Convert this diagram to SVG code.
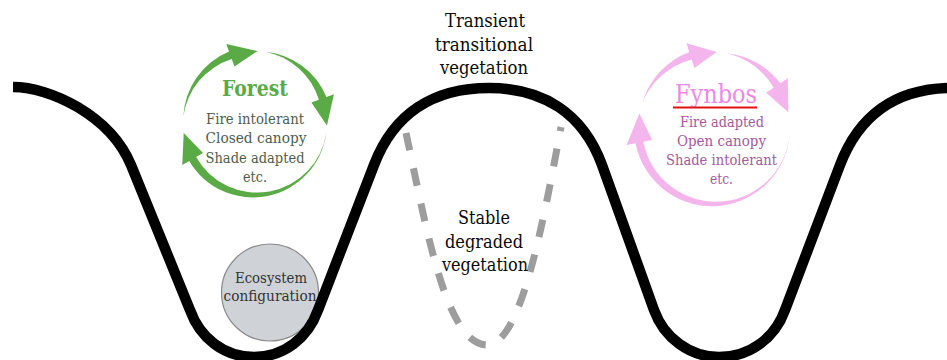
<svg xmlns="http://www.w3.org/2000/svg" width="947" height="360" viewBox="0 0 947 360">
<style>
.t{font-family:"DejaVu Serif","Liberation Serif",serif;text-anchor:middle}
.lbl{font-size:19px;fill:#0a0a0a}
.gbody{font-size:14.5px;fill:#4f5d4c}
.pbody{font-size:15px;fill:#a4599c}
.garr{fill:#5aab45}
.parr{fill:#f4b4ec}
</style>
<rect width="947" height="360" fill="#ffffff"/>
<g id="ecosystem">
<circle cx="270" cy="292.5" r="48.5" fill="#cfd2d6" stroke="#8a8a8a" stroke-width="1.2"/>
</g>
<g id="connectors">
<path id="landscape" d="M13,87 C50,87 110,115 131,165 L190,310 C200,338 224,357 254,357 C284,357 308,338 318,310 L374,165 C394,113 434,88 489,88 C543,88 583,113 602,165 L654,310 C664,338 690,357 719,357 C750,357 775,338 785,310 L840,165 C860,113 898,88 953,88" fill="none" stroke="#000" stroke-width="10.5"/>
<path id="degraded" d="M406,133 C425,220 445,345 487,345 C520,345 542,230 561,127" fill="none" stroke="#9d9d9d" stroke-width="7" stroke-dasharray="18 18"/>
</g>
<g id="ecosystem-label">
<text class="t" x="271" y="282.5" font-size="15.5px" fill="#333" textLength="72" lengthAdjust="spacingAndGlyphs">Ecosystem</text>
<text class="t" x="270" y="301" font-size="15.5px" fill="#333" textLength="93" lengthAdjust="spacingAndGlyphs">configuration</text>
</g>
<g id="forest">
<path class="garr" d="M183.27,116.72 A74,74 0 0 1 229.01,51.58 L226.27,44.07 L257.51,51.04 L234.48,66.62 L231.74,59.10 A70,70 0 0 0 183.27,116.72 Z"/>
<path class="garr" d="M265.02,51.70 A74,74 0 0 1 326.42,97.01 L333.93,94.27 L326.96,125.51 L311.38,102.48 L318.90,99.74 A70,70 0 0 0 265.02,51.70 Z"/>
<path class="garr" d="M326.30,133.02 A74,74 0 0 1 189.18,161.00 L182.25,165.00 L183.70,133.02 L203.04,153.00 L196.11,157.00 A70,70 0 0 0 326.30,133.02 Z"/>
<text class="t" x="255" y="96" font-size="21.5px" font-weight="bold" fill="#5aab45" textLength="66" lengthAdjust="spacingAndGlyphs">Forest</text>
<text class="t gbody" x="255" y="124" textLength="98" lengthAdjust="spacingAndGlyphs">Fire intolerant</text>
<text class="t gbody" x="256" y="143" textLength="101" lengthAdjust="spacingAndGlyphs">Closed canopy</text>
<text class="t gbody" x="255" y="163" textLength="99" lengthAdjust="spacingAndGlyphs">Shade adapted</text>
<text class="t gbody" x="255" y="182" textLength="24" lengthAdjust="spacingAndGlyphs">etc.</text>
</g>
<g id="fynbos">
<path class="parr" d="M642.58,102.01 A78,78 0 0 1 689.28,51.92 L686.50,43.36 L716.65,52.05 L694.53,68.08 L691.75,59.52 A74,74 0 0 0 642.58,102.01 Z"/>
<path class="parr" d="M727.20,53.15 A78,78 0 0 1 780.32,83.26 L787.78,78.23 L788.34,112.20 L766.23,92.77 L773.69,87.74 A74,74 0 0 0 727.20,53.15 Z"/>
<path class="parr" d="M789.95,125.35 A78,78 0 0 1 635.47,143.26 L626.63,144.98 L639.40,113.50 L652.16,140.02 L643.32,141.74 A74,74 0 0 0 789.95,125.35 Z"/>
<text class="t" x="716" y="103" font-size="26px" fill="#ee88e4" textLength="82" lengthAdjust="spacingAndGlyphs">Fynbos</text>
<line x1="673" y1="107.5" x2="757" y2="107.5" stroke="#e01010" stroke-width="2"/>
<text class="t pbody" x="722" y="127" textLength="84" lengthAdjust="spacingAndGlyphs">Fire adapted</text>
<text class="t pbody" x="721.5" y="146" textLength="89" lengthAdjust="spacingAndGlyphs">Open canopy</text>
<text class="t pbody" x="721.5" y="165" textLength="111" lengthAdjust="spacingAndGlyphs">Shade intolerant</text>
<text class="t pbody" x="721.5" y="184" textLength="23" lengthAdjust="spacingAndGlyphs">etc.</text>
</g>
<g id="transient">
<text class="t lbl" x="485" y="27" textLength="80" lengthAdjust="spacingAndGlyphs">Transient</text>
<text class="t lbl" x="484" y="51" textLength="98" lengthAdjust="spacingAndGlyphs">transitional</text>
<text class="t lbl" x="484" y="74" textLength="88" lengthAdjust="spacingAndGlyphs">vegetation</text>
</g>
<g id="stable">
<text class="t lbl" x="484" y="224" textLength="52" lengthAdjust="spacingAndGlyphs">Stable</text>
<text class="t lbl" x="484" y="248" textLength="78" lengthAdjust="spacingAndGlyphs">degraded</text>
<text class="t lbl" x="485" y="271" textLength="86" lengthAdjust="spacingAndGlyphs">vegetation</text>
</g>
</svg>
